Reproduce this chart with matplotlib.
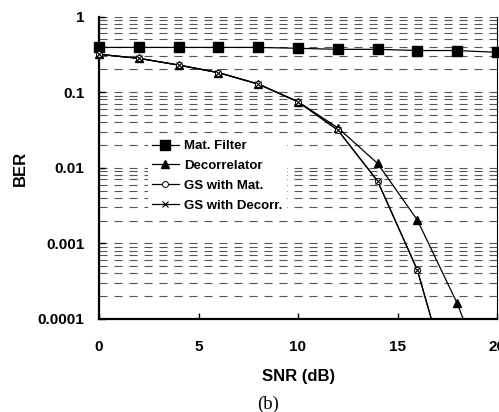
import numpy as np
import matplotlib
matplotlib.use("Agg")
import matplotlib.pyplot as plt
from matplotlib.lines import Line2D

# ---- data ----
snr = [0, 2, 4, 6, 8, 10, 12, 14, 16, 18, 20]
ber_mat_filter = [0.39, 0.39, 0.39, 0.39, 0.39, 0.38, 0.368, 0.368, 0.355, 0.355, 0.336]
ber_decorrelator = [0.316, 0.28, 0.228, 0.181, 0.128, 0.0746, 0.0338, 0.0114, 0.00203, 0.000161, 6.9e-6]
ber_gs_mat = [0.316, 0.28, 0.228, 0.181, 0.128, 0.0746, 0.0315, 0.00667, 0.000443, 6.3e-6, np.nan]
ber_gs_decorr = [0.316, 0.28, 0.228, 0.181, 0.128, 0.0746, 0.0315, 0.00667, 0.000443, 6.3e-6, np.nan]
series_labels = ["Mat. Filter", "Decorrelator", "GS with Mat.", "GS with Decorr."]
x_ticks = [0, 5, 10, 15, 20]
y_ticks = [1e-4, 1e-3, 1e-2, 1e-1, 1]
y_tick_labels = ["0.0001", "0.001", "0.01", "0.1", "1"]

plt.rcParams['font.family'] = ['Liberation Sans', 'DejaVu Sans']
plt.rcParams['lines.scale_dashes'] = False

W, H = 499, 412
fig = plt.figure(figsize=(W / 100, H / 100), dpi=100)
L, R, T, B = 99, 497, 16.5, 319
ax = fig.add_axes([L / W, 1 - B / H, (R - L) / W, (B - T) / H])
ax.set_yscale('log')
ax.set_xlim(0, 20)
ax.set_ylim(1e-4, 1)

# grid
ax.yaxis.grid(True, which='both', color='#555555', lw=0.8, linestyle=(0, (5.8, 5.0)))
ax.xaxis.grid(False)
ax.set_axisbelow(True)

styles = [
    dict(marker='s', ms=6.5, mfc='black', mec='black'),
    dict(marker='^', ms=6.0, mfc='black', mec='black'),
    dict(marker='o', ms=4.3, mfc='white', mec='black', mew=0.7),
    dict(marker='x', ms=4.6, mfc='black', mec='black', mew=0.8),
]
series = [ber_mat_filter, ber_decorrelator, ber_gs_mat, ber_gs_decorr]
x = np.array(snr, dtype=float)
handles = []
for ys, st, lab in zip(series, styles, series_labels):
    y = np.array(ys, dtype=float)
    ax.plot(x, y, color='black', lw=0.9, zorder=3, clip_on=(lab != "Mat. Filter"))
    m = np.isfinite(y) & (y >= 1e-4)
    ax.plot(x[m], y[m], ls='none', zorder=4, clip_on=False, **st)
    handles.append(Line2D([], [], color='black', lw=0.9, **st))

ax.set_xticks(x_ticks)
ax.set_xticklabels([str(t) for t in x_ticks])
ax.set_yticks(y_ticks)
ax.set_yticklabels(y_tick_labels)
ax.yaxis.set_minor_locator(matplotlib.ticker.LogLocator(base=10, subs=np.arange(2, 10)))
ax.yaxis.set_minor_formatter(matplotlib.ticker.NullFormatter())
ax.tick_params(axis='y', which='minor', length=0)
ax.tick_params(axis='both', which='major', direction='in', length=4.5, width=1.0,
               labelsize=11)
ax.tick_params(axis='x', pad=15)
ax.tick_params(axis='y', pad=10.5)
for lbl in ax.get_xticklabels() + ax.get_yticklabels():
    lbl.set_fontweight('bold')

for s in ['left', 'bottom']:
    ax.spines[s].set_linewidth(1.6)
ax.spines['right'].set_linewidth(0.8)
ax.spines['top'].set_visible(False)

leg = ax.legend(handles, series_labels, loc='upper left',
                bbox_to_anchor=(148 / W, 1 - 136 / H), bbox_transform=fig.transFigure,
                prop=dict(weight='bold', size=9.5), frameon=True, fancybox=False,
                facecolor='white', edgecolor='none', framealpha=1,
                borderpad=0.3, borderaxespad=0, handlelength=2.05, handletextpad=0.4,
                labelspacing=0.58)
leg.set_zorder(5)

fig.text(20 / W, 1 - 168 / H, "BER", rotation=90, ha='center', va='center',
         fontsize=12, fontweight='bold')
fig.text(299 / W, 1 - 377 / H, "SNR (dB)", ha='center', va='center',
         fontsize=12, fontweight='bold')
fig.text(268 / W, 1 - 404 / H, "(b)", ha='center', va='center',
         fontsize=13.5, family=['Liberation Serif', 'DejaVu Serif'])

fig.savefig("out.png", dpi=100)
